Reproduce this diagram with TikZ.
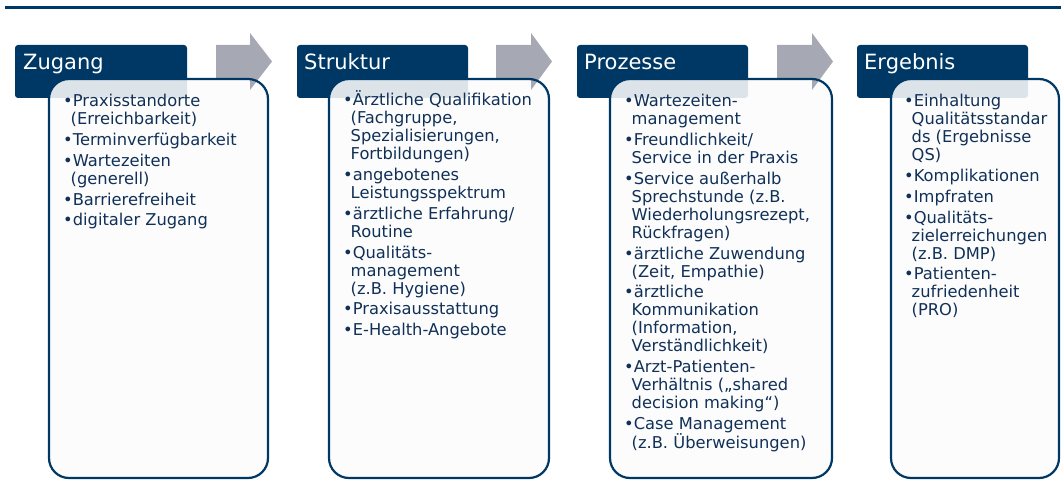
\documentclass[tikz,border=0pt]{standalone}
\usepackage{fontspec}
\setmainfont{DejaVu Sans}
\definecolor{navy}{RGB}{0,56,101}
\definecolor{ink}{RGB}{16,48,88}
\definecolor{flowgray}{RGB}{166,169,179}
\definecolor{paper}{RGB}{252,252,252}
% one bullet item with hanging indent for its continuation lines
\newcommand\itm[1]{\par\hangindent=7.5pt\hangafter=1 \textbullet#1}
\newcommand\itemlist[2]{\begin{minipage}[t]{#1}\let\\\newline\parindent=0pt\parskip=2.7pt\rightskip=0pt plus 1fil #2\end{minipage}}
\begin{document}
\begin{tikzpicture}[x=1pt,y=-1pt,
  headbox/.style={fill=navy, rounded corners=3pt},
  headtext/.style={anchor=base west, inner sep=0pt, text=white, font=\fontsize{21}{25}\selectfont},
  panelfill/.style={fill=paper, fill opacity=0.88, rounded corners=20pt},
  panelline/.style={draw=navy, line width=2.2pt, rounded corners=20pt},
  flow/.style={fill=flowgray},
  itemtext/.style={anchor=base west, inner sep=0pt, text=ink, font=\fontsize{16.3}{18}\selectfont}]
\useasboundingbox (0,0) rectangle (1061,500);

% rule along the top
\draw[navy, line width=2.4pt] (5,7.5) -- (1061,7.5);

% ---------- Zugang ----------
\fill[headbox] (15,45) rectangle (187,98);
\fill[panelfill] (49,79) rectangle (268,478);
\fill[flow] (216,45) -- (250,45) -- (250,33) -- (272,61.5) -- (250,90) -- (250,79) -- (216,79) -- cycle;
\draw[panelline] (49,79) rectangle (268,478);
\node[headtext] (h1) at (23,70) {Zugang};
\node[itemtext] (l1) at (63,107) {\itemlist{200pt}{%
\itm{Praxisstandorte\\(Erreichbarkeit)}
\itm{Terminverfügbarkeit}
\itm{Wartezeiten\\(generell)}
\itm{Barrierefreiheit}
\itm{digitaler Zugang}}};

% ---------- Struktur ----------
\fill[headbox] (297,45) rectangle (468,98);
\fill[panelfill] (329,79) rectangle (549,478);
\fill[flow] (496,45) -- (531,45) -- (531,33) -- (552,61.5) -- (531,90) -- (531,79) -- (496,79) -- cycle;
\draw[panelline] (329,79) rectangle (549,478);
\node[headtext] (h2) at (304,70) {Struktur};
\node[itemtext] (l2) at (343,106) {\itemlist{200pt}{%
\itm{Ärztliche Qualifikation\\(Fachgruppe,\\Spezialisierungen,\\Fortbildungen)}
\itm{angebotenes\\Leistungsspektrum}
\itm{ärztliche Erfahrung/\\Routine}
\itm{Qualitäts-\\management\\(z.B. Hygiene)}
\itm{Praxisausstattung}
\itm{E-Health-Angebote}}};

% ---------- Prozesse ----------
\fill[headbox] (577,45) rectangle (748,98);
\fill[panelfill] (610,79) rectangle (832,478);
\fill[flow] (777,45) -- (812,45) -- (812,33) -- (833,61.5) -- (812,90) -- (812,79) -- (777,79) -- cycle;
\draw[panelline] (610,79) rectangle (832,478);
\node[headtext] (h3) at (584,70) {Prozesse};
\node[itemtext] (l3) at (624,107) {\itemlist{205pt}{%
\itm{Wartezeiten-\\management}
\itm{Freundlichkeit/\\Service in der Praxis}
\itm{Service außerhalb\\Sprechstunde (z.B.\\Wiederholungsrezept,\\Rückfragen)}
\itm{ärztliche Zuwendung\\(Zeit, Empathie)}
\itm{ärztliche\\Kommunikation\\(Information,\\Verständlichkeit)}
\itm{Arzt-Patienten-\\Verhältnis („shared\\decision making“)}
\itm{Case Management\\(z.B. Überweisungen)}}};

% ---------- Ergebnis ----------
\fill[headbox] (857,45) rectangle (1028,98);
\fill[panelfill] (891,79) rectangle (1059,478);
\draw[panelline] (891,79) rectangle (1059,478);
\node[headtext] (h4) at (864,70) {Ergebnis};
\node[itemtext] (l4) at (904,107) {\itemlist{160pt}{%
\itm{Einhaltung\\Qualitätsstandar\\ds (Ergebnisse\\QS)}
\itm{Komplikationen}
\itm{Impfraten}
\itm{Qualitäts-\\zielerreichungen\\(z.B. DMP)}
\itm{Patienten-\\zufriedenheit\\(PRO)}}};
\end{tikzpicture}
\end{document}
